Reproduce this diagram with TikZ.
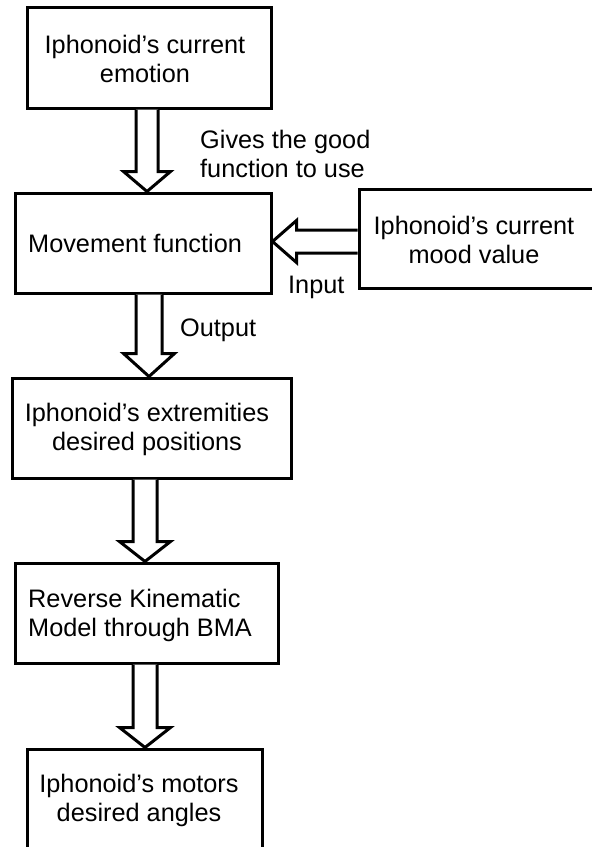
\documentclass[tikz,border=0pt]{standalone}
\usepackage{fontspec}
\setmainfont{Liberation Sans}
\usetikzlibrary{calc}
\tikzset{
  box/.style={draw, line width=3pt, fill=white, inner sep=0pt},
  txt/.style={font=\fontsize{25.3}{29}\selectfont, inner sep=0pt, align=center, text=black},
  blk/.style={draw, line width=3pt, fill=white, line join=miter, miter limit=10}
}
\newcommand{\blkdown}[5]{%
  \draw[blk] let \p1=(#1), \p2=(#2) in
    (\x1-#3,\y1) -- (\x1-#3,\y2+#5) -- (\x1-#4,\y2+#5) -- (\x1,\y2)
    -- (\x1+#4,\y2+#5) -- (\x1+#3,\y2+#5) -- (\x1+#3,\y1);}
\begin{document}
\begin{tikzpicture}[x=1pt,y=-1pt]
\useasboundingbox[fill=white] (0,0) rectangle (592,847);

% boxes
\node[box, minimum width=244pt, minimum height=101pt] (b1) at (149,57.5) {};
\node[box, minimum width=256pt, minimum height=100pt] (b2) at (143,243) {};
\node[box, minimum width=241pt, minimum height=99pt] (mood) at (479.5,238.5) {};
\node[box, minimum width=279pt, minimum height=100pt] (b3) at (151.5,428) {};
\node[box, minimum width=263pt, minimum height=100pt] (b4) at (146.5,613) {};
\node[box, minimum width=235pt, minimum height=111pt] (b5) at (144.5,804.5) {};

% box texts
\node[txt] (t1) at (145,59) {Iphonoid’s current\\emotion};
\node[txt, anchor=west] (t2) at (28,243) {Movement function};
\node[txt] (tm) at (474,240) {Iphonoid’s current\\mood value};
\node[txt] (t3) at (147,429) {Iphonoid’s extremities\\desired positions};
\node[txt, anchor=west, align=left] (t4) at (28,615) {Reverse Kinematic\\Model through BMA};
\node[txt] (t5) at (139,800) {Iphonoid’s motors\\desired angles};

% arrow axes
\coordinate (x1) at (147,0);
\coordinate (x2) at (149,0);
\coordinate (x3) at (145,0);
\coordinate (yin) at (0,241.5);

% block arrows
\blkdown{x1 |- b1.south}{x1 |- b2.north}{11pt}{23.5pt}{20pt}
\blkdown{x2 |- b2.south}{x2 |- b3.north}{13pt}{25.5pt}{23pt}
\blkdown{x3 |- b3.south}{x3 |- b4.north}{12pt}{25.5pt}{20pt}
\blkdown{x3 |- b4.south}{x3 |- b5.north}{12pt}{25.5pt}{20pt}
\draw[blk] let \p1=(yin -| mood.west), \p2=(yin -| b2.east) in
  (\x1,\y1+11.5pt) -- (\x2+24pt,\y1+11.5pt) -- (\x2+24pt,\y1+21pt) -- (\x2,\y2)
  -- (\x2+24pt,\y1-21pt) -- (\x2+24pt,\y1-11.5pt) -- (\x1,\y1-11.5pt);

% connector labels
\node[txt, anchor=west, align=left] (lg) at (200,154) {Gives the good\\function to use};
\node[txt, anchor=west] (lo) at (180,330) {Output};
\node[txt, anchor=west] (li) at (288,287) {Input};
\end{tikzpicture}
\end{document}
